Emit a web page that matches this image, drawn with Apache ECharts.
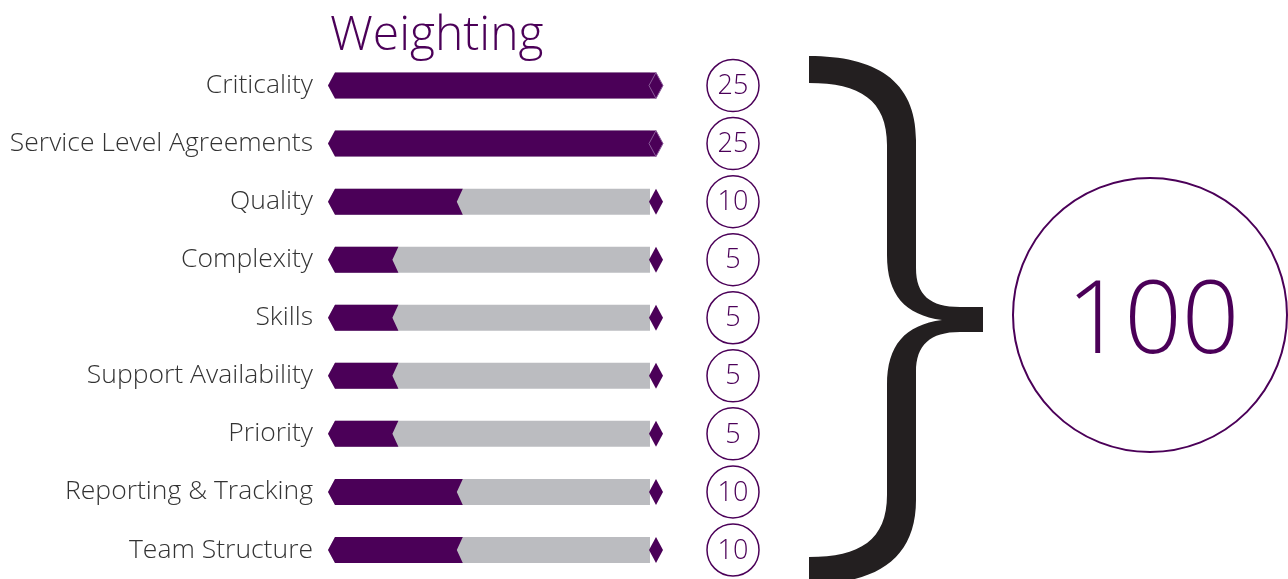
<!DOCTYPE html>
<html lang="en">
<head>
  <meta charset="UTF-8">
  <title>Weighting</title>
  <script src="https://cdn.jsdelivr.net/npm/echarts@6/dist/echarts.min.js"></script>
  <style>
    html, body { margin: 0; padding: 0; background: #fff; }
  </style>
</head>
<body>
  <div id="app" style="width: 1288px; height: 579px;"></div>
  <script>
    // data
    var categories = ['Criticality', 'Service Level Agreements', 'Quality', 'Complexity', 'Skills',
      'Support Availability', 'Priority', 'Reporting & Tracking', 'Team Structure']
    var weights = [25, 25, 10, 5, 5, 5, 5, 10, 10]
    var maxWeight = 25
    var total = weights.reduce(function (a, b) { return a + b }, 0)

    var purple = '#4b0058'
    var grey = '#bbbcc0'
    var font = '"Open Sans", sans-serif'

    var barData = []
    for (var i = 0; i < weights.length; i++) {
      barData.push([weights[i], i])
    }

    var mCharts = echarts.init(document.querySelector('#app'))

    function renderBar(params, api) {
      var v = api.value(0)
      var idx = api.value(1)
      var p0 = api.coord([0, idx])
      var x0 = p0[0]
      var mid = p0[1]
      var xEnd = api.coord([maxWeight, idx])[0]
      var xp = api.coord([v, idx])[0]
      var h = 13
      var n = 7
      var top = mid - h, bot = mid + h
      var children = []
      // grey track
      children.push({
        type: 'polygon',
        shape: { points: [[x0 + n, top], [xEnd, top], [xEnd, bot], [x0 + n, bot], [x0, mid]] },
        style: { fill: grey }
      })
      // purple part
      var pts
      if (v >= maxWeight) {
        pts = [[x0 + n, top], [xEnd + 6, top], [xEnd + 6, bot], [x0 + n, bot], [x0, mid]]
      } else {
        pts = [[x0 + n, top], [xp + 6, top], [xp, mid], [xp + 6, bot], [x0 + n, bot], [x0, mid]]
      }
      children.push({ type: 'polygon', shape: { points: pts }, style: { fill: purple } })
      // diamond at end
      var dc = xEnd + 6
      children.push({
        type: 'polygon',
        shape: { points: [[dc - 7, mid], [dc, top], [dc + 7, mid], [dc, bot]] },
        style: {
          fill: purple,
          stroke: v >= maxWeight ? '#8a5a99' : purple,
          lineWidth: v >= maxWeight ? 1 : 0
        }
      })
      // value circle
      var cx = xEnd + 83
      children.push({
        type: 'circle',
        shape: { cx: cx, cy: mid, r: 26 },
        style: { fill: '#fff', stroke: purple, lineWidth: 1.5 }
      })
      children.push({
        type: 'text',
        style: {
          x: cx, y: mid + 1, text: String(v),
          align: 'center', verticalAlign: 'middle',
          font: '300 27px ' + font, fill: purple
        }
      })
      return { type: 'group', children: children }
    }

    var bracePath = 'M 809 56 C 875 56 916 80 916 140 L 916 268 C 916 295 930 307 960 307 ' +
      'L 983 307 L 983 332 L 960 332 C 930 332 916 345 916 372 L 916 500 ' +
      'C 916 560 875 584 809 584 L 809 557 C 860 557 887 540 887 495 L 887 385 ' +
      'C 887 345 905 325 942 320 C 905 315 887 295 887 255 L 887 145 ' +
      'C 887 100 860 83 809 83 Z'

    function renderTotal(params, api) {
      return {
        type: 'group',
        children: [
          { type: 'path', shape: { pathData: bracePath }, style: { fill: '#231f20' } },
          {
            type: 'circle',
            shape: { cx: 1150, cy: 315, r: 137 },
            style: { fill: '#fff', stroke: purple, lineWidth: 2 }
          },
          {
            type: 'text',
            style: {
              x: 1153, y: 324, text: String(api.value(0)),
              align: 'center', verticalAlign: 'middle',
              font: '300 101px ' + font, fill: purple
            }
          }
        ]
      }
    }

    var option = {
      animation: false,
      grid: { left: 328, top: 56.5, width: 322, height: 526 },
      xAxis: { type: 'value', min: 0, max: maxWeight, show: false },
      yAxis: {
        type: 'category',
        inverse: true,
        data: categories,
        axisLine: { show: false },
        axisTick: { show: false },
        splitLine: { show: false },
        axisLabel: {
          margin: 15,
          fontSize: 26.5,
          fontFamily: font,
          fontWeight: 300,
          color: '#333333',
          padding: [5, 0, 0, 0]
        }
      },
      title: {
        text: 'Weighting',
        left: 325,
        top: 7,
        textStyle: { fontFamily: font, fontWeight: 300, fontSize: 48, color: purple }
      },
      series: [
        {
          type: 'custom',
          renderItem: renderBar,
          data: barData,
          encode: { x: 0, y: 1 }
        },
        {
          type: 'custom',
          coordinateSystem: 'none',
          renderItem: renderTotal,
          data: [[total]]
        }
      ]
    }
    mCharts.setOption(option)
  </script>
</body>
</html>
